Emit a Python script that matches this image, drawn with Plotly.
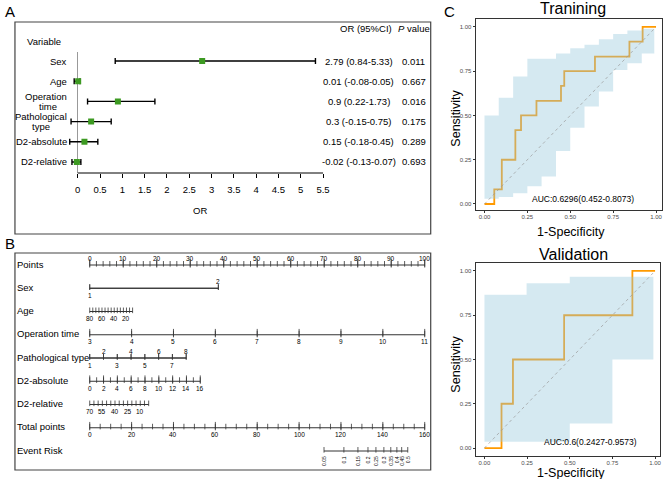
import numpy as np
import plotly.graph_objects as go

W, H = 669, 479
FONT = "Liberation Sans, Arial, sans-serif"


def fx(px):
    return px / W


def fy(py):
    return 1 - py / H


# ---------------- panel A : forest plot ----------------
variables = ["Sex", "Age", "Operation<br>time", "Pathological<br>type", "D2-absolute", "D2-relative"]
or_vals = [2.79, 0.01, 0.9, 0.3, 0.15, -0.02]
ci_low = [0.84, -0.08, 0.22, -0.15, -0.18, -0.13]
ci_high = [5.33, 0.05, 1.73, 0.75, 0.45, 0.07]
or_text = ["2.79 (0.84-5.33)", "0.01 (-0.08-0.05)", "0.9 (0.22-1.73)",
           "0.3 (-0.15-0.75)", "0.15 (-0.18-0.45)", "-0.02 (-0.13-0.07)"]
p_text = ["0.011", "0.667", "0.016", "0.175", "0.289", "0.693"]
or_ticks = [0, 0.5, 1, 1.5, 2, 2.5, 3, 3.5, 4, 4.5, 5, 5.5]

# ---------------- panel B : nomogram ----------------
nomo_rows = ["Points", "Sex", "Age", "Operation time", "Pathological type",
             "D2-absolute", "D2-relative", "Total points", "Event Risk"]
points_labels = [0, 10, 20, 30, 40, 50, 60, 70, 80, 90, 100]
sex_vals = [1, 2]
sex_max_pts = 38.4
age_ticks = [80, 75, 70, 65, 60, 55, 50, 45, 40, 35, 30, 25, 20, 15, 10]
age_labels = [80, 60, 40, 20]
age_max_pts = 12.8
op_ticks = [3, 4, 5, 6, 7, 8, 9, 10, 11]
op_max_pts = 100
path_ticks = [1, 2, 3, 4, 5, 6, 7, 8]
path_up = [2, 4, 6, 8]
path_down = [1, 3, 5, 7]
path_max_pts = 28.8
d2abs_ticks = list(range(0, 17))
d2abs_labels = [0, 2, 4, 6, 8, 10, 12, 14, 16]
d2abs_max_pts = 33.0
d2rel_ticks = [70, 65, 60, 55, 50, 45, 40, 35, 30, 25, 20, 15, 10, 5, 0]
d2rel_labels = [70, 55, 40, 25, 10]
d2rel_max_pts = 17.6
total_labels = [0, 20, 40, 60, 80, 100, 120, 140, 160]
total_max = 160
risk_labels = ["0.05", "0.1", "0.15", "0.2", "0.25", "0.3", "0.35", "0.4", "0.45", "0.5"]
risk_total_pts = [111.9, 121.4, 128.1, 132.9, 136.7, 140.5, 143.8, 146.7, 149.0, 151.9]

# ---------------- panel C : ROC curves ----------------
train_fpr = [0, 0.057, 0.101, 0.18, 0.213, 0.303, 0.446, 0.465, 0.644, 0.845, 0.922, 1.0]
train_tpr = [0, 0.083, 0.25, 0.417, 0.5, 0.583, 0.667, 0.75, 0.833, 0.917, 1.0, 1.0]
train_band_x = [0, 0.083, 0.167, 0.25, 0.333, 0.417, 0.5, 0.583, 0.667, 0.75, 0.833, 0.917, 0.99]
train_upper = [0.50, 0.60, 0.72, 0.82, 0.82, 0.85, 0.88, 0.90, 0.93, 0.96, 0.98, 0.99]
train_lower = [0.03, 0.04, 0.06, 0.10, 0.155, 0.30, 0.43, 0.55, 0.635, 0.757, 0.795, 0.85]
train_auc = "AUC:0.6296(0.452-0.8073)"

val_fpr = [0, 0.1, 0.167, 0.467, 0.867, 1.0]
val_tpr = [0, 0.25, 0.5, 0.75, 1.0, 1.0]
val_band_x = [0, 0.247, 0.5, 0.75, 0.99]
val_upper = [0.865, 0.93, 0.968, 0.968]
val_lower = [0.036, 0.036, 0.139, 0.5]
val_auc = "AUC:0.6(0.2427-0.9573)"


def to_points(vals, v_start, v_end, pts_end):
    vals = np.asarray(vals, dtype=float)
    return (vals - v_start) / (v_end - v_start) * pts_end


def band_polygon(bx, lo, up):
    xs, ys = [], []
    for i in range(len(lo)):
        xs += [bx[i], bx[i + 1]]
        ys += [lo[i], lo[i]]
    for i in reversed(range(len(up))):
        xs += [bx[i + 1], bx[i]]
        ys += [up[i], up[i]]
    return xs + [xs[0]], ys + [ys[0]]


fig = go.Figure()
annotations = []
shapes = []


def note(x, y, text, size=9.5, xref="paper", yref="paper", **kw):
    a = dict(x=x, y=y, xref=xref, yref=yref, text=text, showarrow=False,
             xanchor="center", yanchor="middle", font=dict(size=size, color="black"))
    a.update(kw)
    annotations.append(a)


# ---- A
rows = [6, 5, 4, 3, 2, 1]
fig.add_trace(go.Scatter(
    x=or_vals, y=rows, mode="markers",
    marker=dict(symbol="square", size=6, color="#3d9a22"),
    error_x=dict(type="data", symmetric=False,
                 array=[h - o for h, o in zip(ci_high, or_vals)],
                 arrayminus=[o - l for o, l in zip(or_vals, ci_low)],
                 color="black", thickness=1.4, width=3),
    xaxis="x", yaxis="y", showlegend=False, hoverinfo="skip"))

for r, v, t, p in zip(rows, variables, or_text, p_text):
    parts = v.split("<br>")
    if len(parts) == 1:
        note(fx(69), r, v, xanchor="right", yref="y")
    else:
        # two-line label, second line centred under the first
        note(fx(69), r, parts[0], xanchor="right", yref="y", yshift=5)
        note(fx(69 - 0.49 * 9.5 * len(parts[0]) / 2), r, parts[1], yref="y", yshift=-5)
    note(fx(360), r, t, yref="y")
    note(fx(415), r, p, yref="y")

note(fx(25), fy(42), "Variable", xanchor="left")
note(fx(367), fy(29), "OR (95%CI)")
note(fx(415), fy(29), "<i>P</i> value")
note(fx(201), fy(210), "OR")

shapes.append(dict(type="line", xref="x", yref="y domain", x0=0, x1=5.5, y0=0, y1=0,
                   line=dict(color="black", width=1)))
shapes.append(dict(type="rect", xref="paper", yref="paper", x0=fx(15), x1=fx(432),
                   y0=fy(234), y1=fy(22), line=dict(color="#444", width=1.2)))


# ---- B
def nomo_row(row_y, tick_pts, lab_pts, labs, side, major_pts=None):
    tick_pts = list(tick_pts)
    fig.add_trace(go.Scatter(
        x=[min(tick_pts), max(tick_pts)], y=[row_y, row_y], mode="lines",
        line=dict(color="#333", width=1), xaxis="x2", yaxis="y2",
        showlegend=False, hoverinfo="skip"))
    fig.add_trace(go.Scatter(
        x=tick_pts, y=[row_y + 0.05] * len(tick_pts), mode="markers",
        marker=dict(symbol="line-ns", size=4, line=dict(color="#333", width=0.8)),
        xaxis="x2", yaxis="y2", showlegend=False, hoverinfo="skip"))
    if major_pts is not None:
        fig.add_trace(go.Scatter(
            x=list(major_pts), y=[row_y + 0.07] * len(major_pts), mode="markers",
            marker=dict(symbol="line-ns", size=6, line=dict(color="#333", width=0.8)),
            xaxis="x2", yaxis="y2", showlegend=False, hoverinfo="skip"))
    for xp, lab in zip(lab_pts, labs):
        note(xp, row_y, str(lab), size=6.5, xref="x2", yref="y2",
             yshift=7 if side == "up" else -7)


nomo_y = [8, 7, 6, 5, 4, 3, 2, 1, 0]
for ry, name in zip(nomo_y, nomo_rows):
    note(fx(15), ry, name, yref="y2", xanchor="left", yshift=1)

nomo_row(8, np.arange(0, 101, 2), points_labels, points_labels, "up", major_pts=points_labels)
sex_pts = to_points(sex_vals, 1, 2, sex_max_pts)
nomo_row(7, sex_pts, [sex_pts[1]], ["2"], "up")
nomo_row(7, sex_pts, [sex_pts[0]], ["1"], "down")
nomo_row(6, to_points(age_ticks, 80, 10, age_max_pts), to_points(age_labels, 80, 10, age_max_pts),
         age_labels, "down")
op_pts = to_points(op_ticks, 3, 11, op_max_pts)
nomo_row(5, op_pts, op_pts, op_ticks, "down", major_pts=op_pts)
nomo_row(4, to_points(path_ticks, 1, 8, path_max_pts), to_points(path_up, 1, 8, path_max_pts),
         path_up, "up")
nomo_row(4, to_points(path_ticks, 1, 8, path_max_pts), to_points(path_down, 1, 8, path_max_pts),
         path_down, "down")
nomo_row(3, to_points(d2abs_ticks, 0, 16, d2abs_max_pts),
         to_points(d2abs_labels, 0, 16, d2abs_max_pts), d2abs_labels, "down",
         major_pts=to_points(d2abs_labels, 0, 16, d2abs_max_pts))
nomo_row(2, to_points(d2rel_ticks, 70, 0, d2rel_max_pts),
         to_points(d2rel_labels, 70, 0, d2rel_max_pts), d2rel_labels, "down")
tot_lab_pts = to_points(total_labels, 0, total_max, 100)
nomo_row(1, to_points(np.arange(0, 161, 5), 0, total_max, 100), tot_lab_pts, total_labels, "down",
         major_pts=tot_lab_pts)
risk_pts = to_points(risk_total_pts, 0, total_max, 100)
nomo_row(0, risk_pts, [], [], "down")
for xp, lab in zip(risk_pts, risk_labels):
    note(xp, 0, lab, size=5, xref="x2", yref="y2", textangle=-90, yanchor="top", yshift=-3)

shapes.append(dict(type="rect", xref="paper", yref="paper", x0=fx(15), x1=fx(432),
                   y0=fy(470), y1=fy(253), line=dict(color="#444", width=1.2)))


# ---- C
def roc_panel(xa, ya, fpr, tpr, bx, lo, up, auc_text, auc_x, auc_y):
    fig.add_trace(go.Scatter(x=fpr, y=tpr, mode="lines", line=dict(color="#ff9a00", width=1.8, shape="hv"),
                             xaxis=xa, yaxis=ya, showlegend=False, hoverinfo="skip"))
    px_, py_ = band_polygon(bx, lo, up)
    fig.add_trace(go.Scatter(x=px_, y=py_, mode="lines", fill="toself",
                             fillcolor="rgba(150,200,220,0.4)", line=dict(width=0),
                             xaxis=xa, yaxis=ya, showlegend=False, hoverinfo="skip"))
    fig.add_trace(go.Scatter(x=[0, 1], y=[0, 1], mode="lines",
                             line=dict(color="#9a9a9a", width=0.7, dash="dot"),
                             xaxis=xa, yaxis=ya, showlegend=False, hoverinfo="skip"))
    note(auc_x, auc_y, auc_text, size=8.5, xref=xa, yref=ya)


roc_panel("x3", "y3", train_fpr, train_tpr, train_band_x, train_lower, train_upper, train_auc, 0.575, 0.03)
roc_panel("x4", "y4", val_fpr, val_tpr, val_band_x, val_lower, val_upper, val_auc, 0.62, 0.035)

note(fx(575), fy(9), "Tranining", size=16)
note(fx(575), fy(254), "Validation", size=16)
note(fx(457), fy(118), "Sensitivity", size=12.5, textangle=-90)
note(fx(457), fy(364), "Sensitivity", size=12.5, textangle=-90)
note(fx(573), fy(232), "1-Specificity", size=12.5)
note(fx(573), fy(473), "1-Specificity", size=12.5)
note(fx(3), fy(11), "A", size=15, xanchor="left")
note(fx(3), fy(243), "B", size=15, xanchor="left")
note(fx(443), fy(11), "C", size=15, xanchor="left")

roc_ticks = [0, 0.25, 0.5, 0.75, 1.0]
roc_axis = dict(tickvals=roc_ticks, tickformat=".2f", ticks="outside", ticklen=2, tickcolor="#333",
                tickfont=dict(size=6, color="#4d4d4d"), showline=True, mirror=True,
                linecolor="#333", linewidth=1, showgrid=False, zeroline=False)

fig.update_layout(
    width=W, height=H, margin=dict(l=0, r=0, t=0, b=0),
    paper_bgcolor="white", plot_bgcolor="white",
    font=dict(family=FONT, color="black"),
    xaxis=dict(domain=[fx(60), fx(330)], range=[-0.402, 5.634], tickvals=or_ticks,
               ticktext=[f"{t:g}" for t in or_ticks], ticks="outside", ticklen=4, tickcolor="black",
               tickfont=dict(size=9.5), ticklabelstandoff=4, showgrid=False, showline=False,
               zeroline=True, zerolinecolor="#999", zerolinewidth=1),
    yaxis=dict(domain=[fy(173), fy(52)], range=[0.455, 6.446], visible=False),
    xaxis2=dict(domain=[fx(15), fx(432)], range=[-22.32, 101.79], visible=False),
    yaxis2=dict(domain=[fy(470), fy(253)], range=[-0.817, 8.516], visible=False),
    xaxis3=dict(domain=[fx(477), fx(664)], range=[-0.052, 1.035], anchor="y3",
                ticklabelstandoff=-1, **roc_axis),
    yaxis3=dict(domain=[fy(210), fy(19)], range=[-0.034, 1.045], anchor="x3", **roc_axis),
    xaxis4=dict(domain=[fx(477), fx(662)], range=[-0.052, 1.029], anchor="y4",
                ticklabelstandoff=-1, **roc_axis),
    yaxis4=dict(domain=[fy(456), fy(263)], range=[-0.045, 1.045], anchor="x4", **roc_axis),
    annotations=annotations,
    shapes=shapes,
)

fig.write_html("out.html", config={"displayModeBar": False},
               post_script="document.body.style.margin='0';")
